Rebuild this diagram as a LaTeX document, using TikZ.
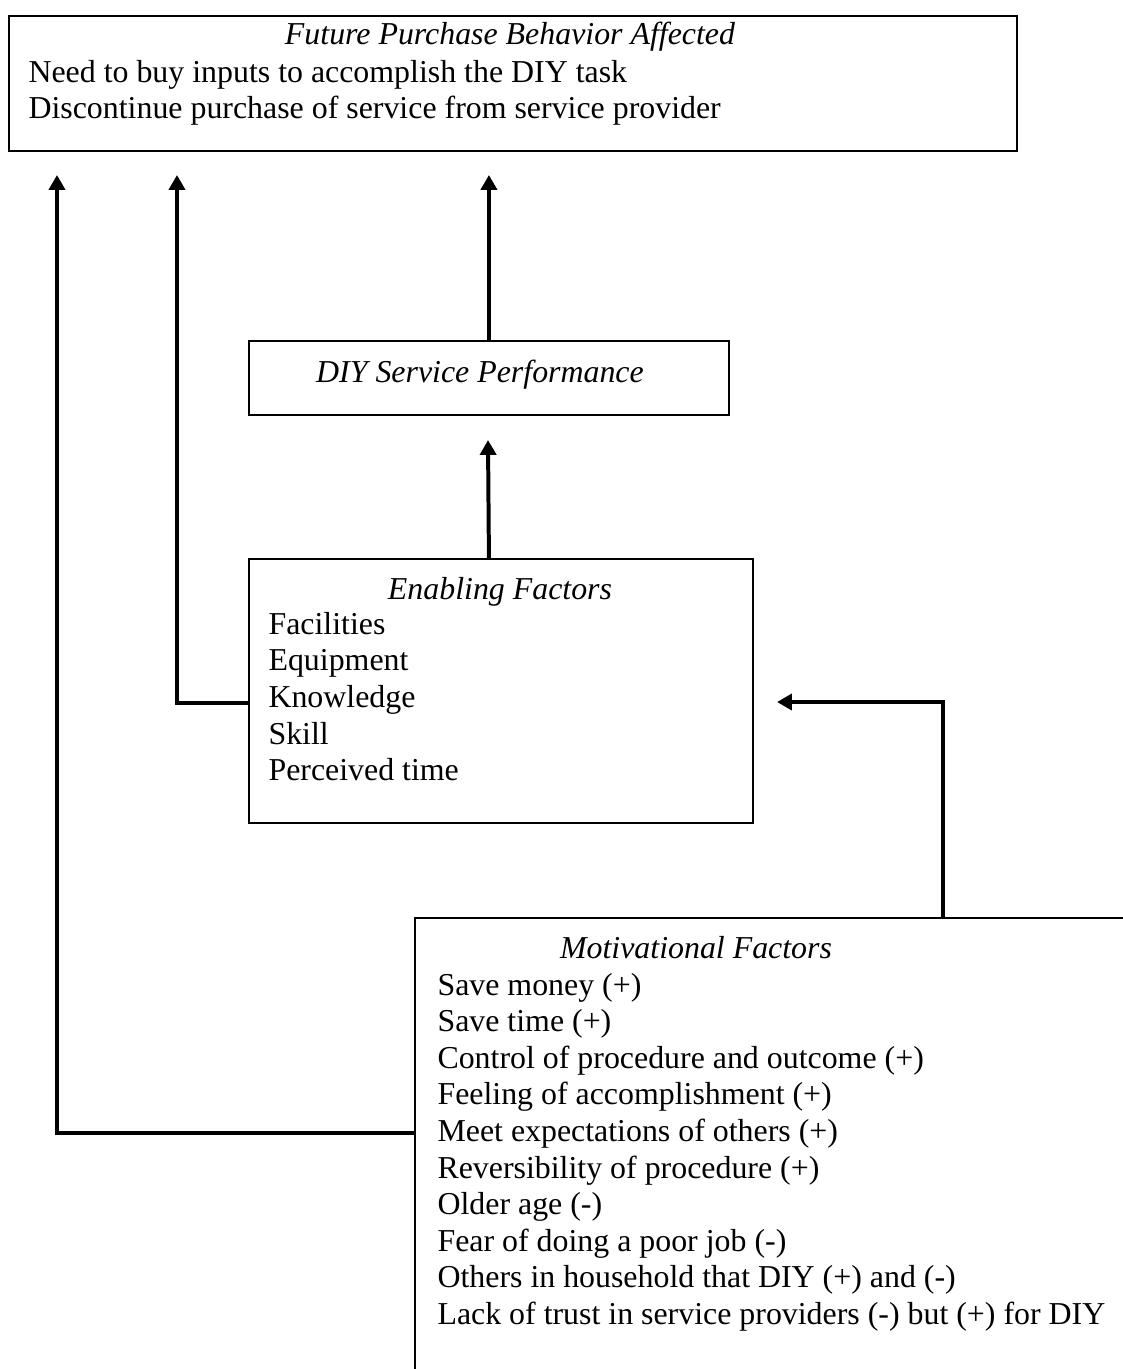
\documentclass[tikz,border=0pt]{standalone}
\usepackage{fontspec}
\setmainfont{Liberation Serif}
\usetikzlibrary{arrows.meta}
\newcommand{\pxu}{0.3764pt}
\tikzset{
  boxline/.style={line width=0.7pt},
  factorbox/.style={boxline, draw, anchor=north west, inner sep=0},
  arr/.style={line width=1.5pt, -{Triangle[length=5.6pt,width=6pt]}},
  txt/.style={inner sep=0, font=\fontsize{12pt}{13.8pt}\selectfont},
  ttl/.style={txt, anchor=base, font=\fontsize{12pt}{13.8pt}\selectfont\itshape},
  item/.style={txt, anchor=base west}
}
\begin{document}
\begin{tikzpicture}[x=0.3764pt,y=-0.3764pt]
\useasboundingbox (0,0) rectangle (1122,1369);

% boxes
\node[factorbox, minimum width=1008*\pxu, minimum height=135*\pxu] (future) at (8,15) {};
\node[factorbox, minimum width=480*\pxu, minimum height=74*\pxu] (diy) at (248,340) {};
\node[factorbox, minimum width=504*\pxu, minimum height=264*\pxu] (enab) at (248,558) {};
\node[anchor=north west, inner sep=0, minimum width=707*\pxu, minimum height=451*\pxu] (mot) at (415,918) {};
\draw[boxline] (mot.south west) -- (mot.north west) -- (mot.north east);

% texts
\node[ttl] (futuret) at (510,45) {Future Purchase Behavior Affected};
\node[item] (future1) at (28,83) {Need to buy inputs to accomplish the DIY task};
\node[item] (future2) at (28,119) {Discontinue purchase of service from service provider};
\node[ttl] (diyt) at (480,382) {DIY Service Performance};
\node[ttl] (enabt) at (500,599) {Enabling Factors};
\foreach \t [count=\i from 0] in {Facilities,Equipment,Knowledge,Skill,Perceived time}
  \node[item] (e\i) at (268,634+36.7*\i) {\t};
\node[ttl] (mott) at (696,958) {Motivational Factors};
\foreach \t [count=\i from 0] in {Save money (+),Save time (+),Control of procedure and outcome (+),
  Feeling of accomplishment (+),Meet expectations of others (+),Reversibility of procedure (+),
  Older age (-),Fear of doing a poor job (-),Others in household that DIY (+) and (-),
  Lack of trust in service providers (-) but (+) for DIY}
  \node[item] (m\i) at (437,995+36.6*\i) {\t};

% connectors
\coordinate (tipA) at (57,175);
\coordinate (tipB) at (177,175);
\coordinate (tipC) at (777,702);
\coordinate (tipD) at (488,440);
\draw[arr] (diy.north) -- (diy.north |- tipA);
\draw[arr] (diy.south |- enab.north) -- (tipD);
\draw[arr] (enab.west) ++(0,12) -| (tipB);
\draw[arr] (mot.north west) ++(528,0) |- (tipC);
\draw[arr] (mot.north west) ++(0,215) -| (tipA);
\end{tikzpicture}
\end{document}
